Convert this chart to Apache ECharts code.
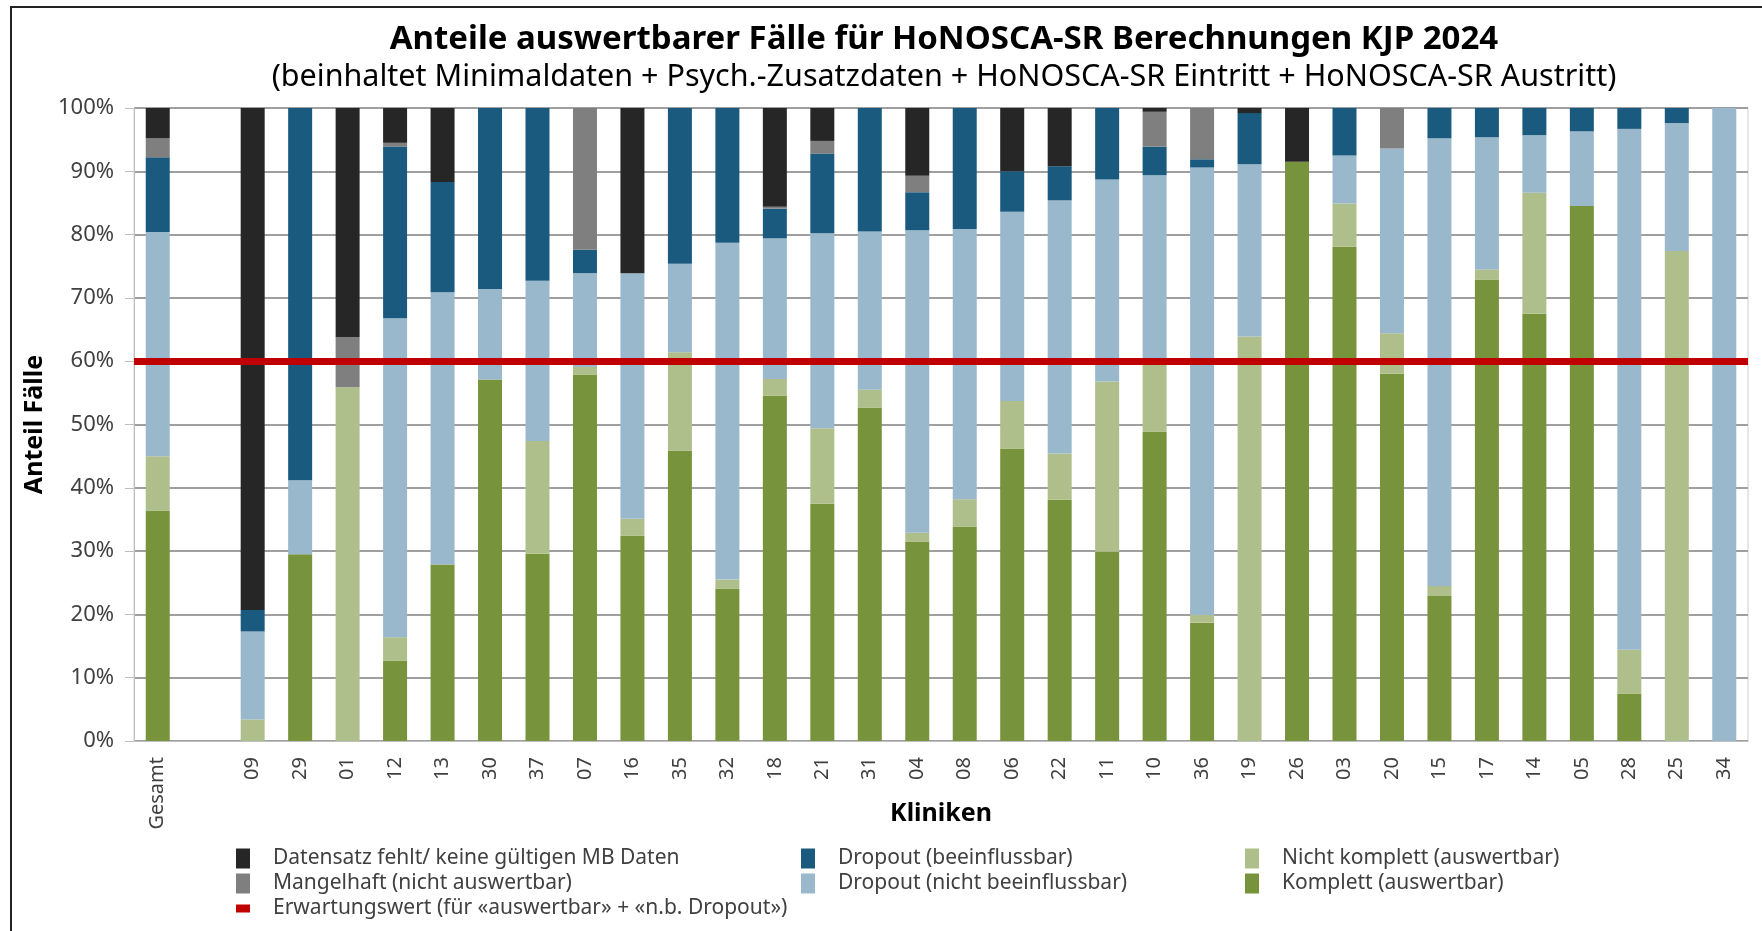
<!DOCTYPE html>
<html>
<head>
<meta charset="utf-8">
<script src="https://cdn.jsdelivr.net/npm/echarts@6/dist/echarts.min.js"></script>
<style>
  html, body { margin: 0; padding: 0; background: #fff; }
  #main { width: 1762px; height: 931px; }
</style>
</head>
<body>
<div id="main"></div>
<script>
// Kategorien (leere Kategorie = Abstand nach "Gesamt")
var kliniken = ['Gesamt', '', '09', '29', '01', '12', '13', '30', '37', '07', '16', '35', '32', '18', '21', '31', '04', '08', '06', '22', '11', '10', '36', '19', '26', '03', '20', '15', '17', '14', '05', '28', '25', '34'];

// Anteile in %, von unten nach oben gestapelt
var komplett      = [36.4, null, 0, 29.5, 0, 12.7, 27.9, 57.1, 29.6, 57.9, 32.4, 45.9, 24.1, 54.6, 37.5, 52.7, 31.5, 33.9, 46.2, 38.1, 29.9, 48.9, 18.7, 0, 91.5, 78.1, 58.0, 22.9, 72.9, 67.5, 84.5, 7.5, 0, 0];
var nichtKomplett = [8.6, null, 3.4, 0, 55.9, 3.7, 0, 0, 17.8, 1.2, 2.7, 15.5, 1.4, 2.6, 11.9, 2.8, 1.4, 4.3, 7.5, 7.3, 26.9, 10.9, 1.2, 63.9, 0, 6.8, 6.4, 1.6, 1.6, 19.1, 0, 6.9, 77.4, 0];
var dropoutNB     = [35.4, null, 13.9, 11.7, 0, 50.4, 43.0, 14.3, 25.3, 14.8, 38.8, 14.0, 53.2, 22.2, 30.8, 25.0, 47.8, 42.7, 29.9, 40.0, 31.9, 29.6, 70.7, 27.2, 0, 7.6, 29.2, 70.7, 20.9, 9.1, 11.8, 82.3, 20.2, 100];
var dropoutB      = [11.8, null, 3.4, 58.8, 0, 27.1, 17.4, 28.6, 27.3, 3.7, 0, 24.6, 21.3, 4.7, 12.6, 19.5, 6.0, 19.1, 6.4, 5.4, 11.3, 4.5, 1.3, 8.1, 0, 7.5, 0, 4.8, 4.6, 4.3, 3.7, 3.3, 2.4, 0];
var mangelhaft    = [3.0, null, 0, 0, 7.9, 0.6, 0, 0, 0, 22.4, 0, 0, 0, 0.3, 2.0, 0, 2.6, 0, 0, 0, 0, 5.5, 8.1, 0, 0, 0, 6.4, 0, 0, 0, 0, 0, 0, 0];
var fehlt         = [4.8, null, 79.3, 0, 36.2, 5.5, 11.7, 0, 0, 0, 26.1, 0, 0, 15.6, 5.2, 0, 10.7, 0, 10.0, 9.2, 0, 0.6, 0, 0.8, 8.5, 0, 0, 0, 0, 0, 0, 0, 0, 0];

var erwartungswert = 60;

var N_FEHLT = 'Datensatz fehlt/ keine gültigen MB Daten';
var N_MANGEL = 'Mangelhaft (nicht auswertbar)';
var N_DB = 'Dropout (beeinflussbar)';
var N_DNB = 'Dropout (nicht beeinflussbar)';
var N_NK = 'Nicht komplett (auswertbar)';
var N_K = 'Komplett (auswertbar)';
var N_ERW = 'Erwartungswert (für «auswertbar» + «n.b. Dropout»)';

var font = 'Noto Sans';
var txt = '#404040';

function bar(name, data, color) {
  return {
    name: name,
    type: 'bar',
    stack: 'all',
    barWidth: 24,
    data: data,
    itemStyle: { color: color },
    emphasis: { disabled: true }
  };
}

var legendText = { fontFamily: font, fontSize: 21, color: txt, padding: [0, 0, 0, 18] };

var myChart = echarts.init(document.getElementById('main'));
myChart.setOption({
  animation: false,
  backgroundColor: '#fff',
  title: {
    text: 'Anteile auswertbarer Fälle für HoNOSCA-SR Berechnungen KJP 2024',
    subtext: '(beinhaltet Minimaldaten + Psych.-Zusatzdaten + HoNOSCA-SR Eintritt + HoNOSCA-SR Austritt)',
    left: 939,
    top: 18,
    textAlign: 'center',
    itemGap: 6,
    textStyle: { fontFamily: font, fontSize: 33, fontWeight: 'bold', color: '#000' },
    subtextStyle: { fontFamily: font, fontSize: 30.5, color: '#000' }
  },
  grid: {
    left: 134,
    right: 14,
    top: 108,
    bottom: 190,
    show: true,
    borderColor: '#cfcfcf',
    borderWidth: 1
  },
  legend: [
    { left: 231, top: 843, orient: 'vertical', itemGap: 4, itemWidth: 14, itemHeight: 20, icon: 'rect',
      data: [N_FEHLT, N_MANGEL], textStyle: legendText, selectedMode: false },
    { left: 231, top: 893, orient: 'vertical', itemWidth: 14, itemHeight: 8, icon: 'rect',
      data: [N_ERW], textStyle: legendText, selectedMode: false },
    { left: 796, top: 843, orient: 'vertical', itemGap: 4, itemWidth: 14, itemHeight: 20, icon: 'rect',
      data: [N_DB, N_DNB], textStyle: legendText, selectedMode: false },
    { left: 1240, top: 843, orient: 'vertical', itemGap: 4, itemWidth: 14, itemHeight: 20, icon: 'rect',
      data: [N_NK, N_K], textStyle: legendText, selectedMode: false }
  ],
  xAxis: {
    type: 'category',
    data: kliniken,
    name: 'Kliniken',
    nameLocation: 'middle',
    nameGap: 60,
    nameMoveOverlap: false,
    nameTextStyle: { fontFamily: font, fontSize: 25, fontWeight: 'bold', color: '#000' },
    axisLine: { lineStyle: { color: '#bfbfbf', width: 1 } },
    axisTick: { show: false },
    axisLabel: { rotate: 90, interval: 0, margin: 16, fontFamily: font, fontSize: 20, color: txt }
  },
  yAxis: {
    type: 'value',
    min: 0,
    max: 100,
    interval: 10,
    name: 'Anteil Fälle',
    nameLocation: 'middle',
    nameGap: 84,
    nameRotate: 90,
    nameTextStyle: { fontFamily: font, fontSize: 25, fontWeight: 'bold', color: '#000' },
    axisLine: { show: true, lineStyle: { color: '#bfbfbf', width: 1 } },
    axisTick: { show: true, length: 9, lineStyle: { color: '#bfbfbf' } },
    axisLabel: { formatter: '{value}%', margin: 20, fontFamily: font, fontSize: 22, color: txt },
    splitLine: { lineStyle: { color: '#9f9f9f', width: 2 } }
  },
  series: [
    bar(N_K, komplett, '#77933c'),
    bar(N_NK, nichtKomplett, '#afbf8b'),
    bar(N_DNB, dropoutNB, '#9ab8cb'),
    bar(N_DB, dropoutB, '#1b5a7f'),
    bar(N_MANGEL, mangelhaft, '#7f7f7f'),
    bar(N_FEHLT, fehlt, '#262626'),
    {
      name: N_ERW,
      type: 'line',
      data: [],
      z: 10,
      itemStyle: { color: '#c00000' },
      markLine: {
        silent: true,
        symbol: 'none',
        label: { show: false },
        lineStyle: { color: '#c00000', width: 7, type: 'solid' },
        data: [{ yAxis: erwartungswert }]
      }
    }
  ],
  graphic: [
    { type: 'polyline', z: 100, silent: true,
      shape: { points: [[11, 940], [11, 7], [1770, 7]] },
      style: { stroke: '#222', lineWidth: 2, fill: null } }
  ]
});
</script>
</body>
</html>
